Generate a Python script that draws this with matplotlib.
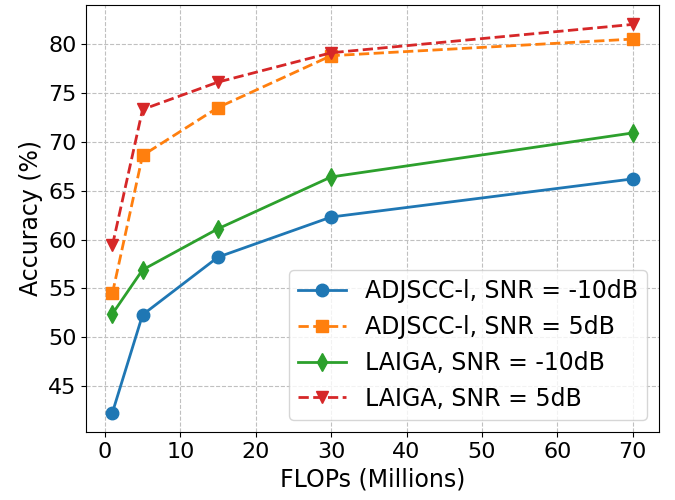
import matplotlib
matplotlib.use("Agg")
import matplotlib.pyplot as plt

# FLOPs budget (millions)
flops = [1, 5, 15, 30, 70]

# accuracy (%) per scheme
adjscc_m10 = [42.3, 52.3, 58.2, 62.3, 66.2]
adjscc_5 = [54.5, 68.6, 73.5, 78.8, 80.5]
laiga_m10 = [52.4, 56.9, 61.1, 66.4, 70.9]
laiga_5 = [59.4, 73.3, 76.1, 79.1, 82.0]

labels = ["ADJSCC-l, SNR = -10dB", "ADJSCC-l, SNR = 5dB",
          "LAIGA, SNR = -10dB", "LAIGA, SNR = 5dB"]

fig, ax = plt.subplots(figsize=(6.75, 5), dpi=100)
ax.plot(flops, adjscc_m10, '-o', color='tab:blue', markersize=9, linewidth=2, label=labels[0])
ax.plot(flops, adjscc_5, '--s', color='tab:orange', markersize=9, linewidth=2, label=labels[1])
ax.plot(flops, laiga_m10, '-d', color='tab:green', markersize=9, linewidth=2, label=labels[2])
ax.plot(flops, laiga_5, '--v', color='tab:red', markersize=9, linewidth=2, label=labels[3])

ax.set_xlabel("FLOPs (Millions)", fontsize=17)
ax.set_ylabel("Accuracy (%)", fontsize=17)
ax.tick_params(labelsize=16)
ax.set_xticks([0, 10, 20, 30, 40, 50, 60, 70])
ax.set_yticks([45, 50, 55, 60, 65, 70, 75, 80])
ax.grid(True, linestyle='--', color='#c0c0c0', linewidth=0.8)
ax.legend(loc='lower right', fontsize=17)

plt.subplots_adjust(left=0.128, right=0.976, top=0.99, bottom=0.136)
plt.savefig("out.png", dpi=100)
